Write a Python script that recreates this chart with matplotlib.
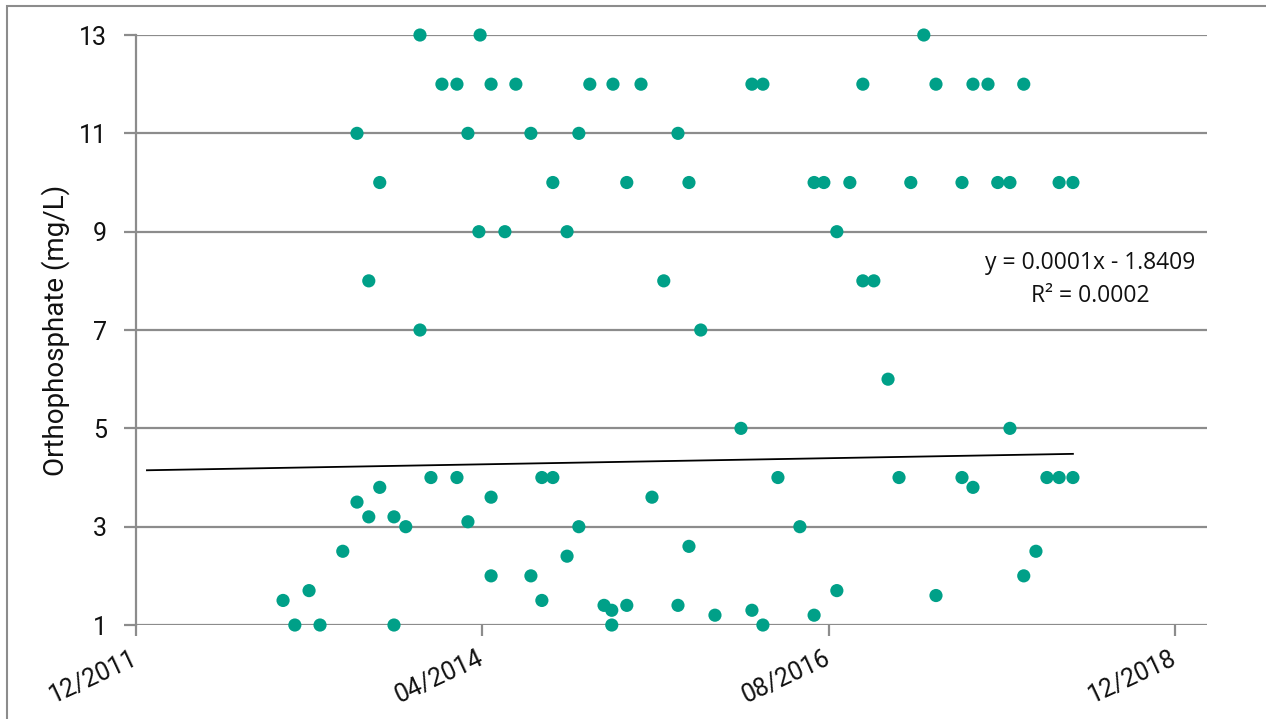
import numpy as np
import pandas as pd
import matplotlib
matplotlib.use('Agg')
import matplotlib.pyplot as plt
from matplotlib.patches import Rectangle

# sample dates as spreadsheet serial numbers (days since 1899-12-30)
sample_serial = [41240, 41269, 41304, 41331, 41387, 41422, 41422, 41451, 41451, 41478,
                 41478, 41513, 41513, 41542, 41577, 41577, 41604, 41631, 41668, 41668,
                 41695, 41695, 41722, 41725, 41752, 41752, 41752, 41786, 41813, 41850,
                 41850, 41877, 41877, 41904, 41904, 41939, 41939, 41968, 41968, 41995,
                 42030, 42049, 42049, 42052, 42086, 42086, 42121, 42148, 42177, 42212,
                 42212, 42239, 42239, 42268, 42303, 42367, 42394, 42394, 42421, 42421,
                 42458, 42512, 42547, 42547, 42571, 42603, 42603, 42635, 42667, 42667,
                 42694, 42729, 42756, 42785, 42817, 42847, 42847, 42911, 42911, 42938,
                 42938, 42975, 42999, 43029, 43029, 43063, 43063, 43093, 43120, 43150,
                 43150, 43184, 43184]
ortho = [1.5, 1.0, 1.7, 1.0, 2.5, 11, 3.5, 8, 3.2, 10,
         3.8, 3.2, 1.0, 3.0, 13, 7, 4, 12, 12, 4,
         11, 3.1, 9, 13, 12, 3.6, 2.0, 9, 12, 11,
         2.0, 4, 1.5, 10, 4, 9, 2.4, 11, 3.0, 12,
         1.4, 1.3, 1.0, 12, 10, 1.4, 12, 3.6, 8, 11,
         1.4, 10, 2.6, 7, 1.2, 5, 12, 1.3, 12, 1.0,
         4, 3.0, 10, 1.2, 10, 9, 1.7, 10, 12, 8,
         8, 6, 4, 10, 13, 12, 1.6, 10, 4, 12,
         3.8, 12, 10, 10, 5, 12, 2.0, 2.5, 4, 10,
         4, 10, 4]

# linear trendline (x = serial date)
trend_slope = 0.0001464
trend_intercept = -1.8409
trend_range = [40905, 43184]
trend_label = 'y = 0.0001x - 1.8409\nR² = 0.0002'

tick_dates = ['2011-12-01', '2014-04-01', '2016-08-01', '2018-12-01']
tick_labels = ['12/2011', '04/2014', '08/2016', '12/2018']
y_ticks = [1, 3, 5, 7, 9, 11, 13]

origin = pd.Timestamp('1899-12-30')
tick_serial = [(pd.Timestamp(d) - origin).days for d in tick_dates]

grey = '#8c8c8c'
teal = '#00a088'
ink = '#111111'
tick_font = dict(family=['Roboto', 'DejaVu Sans'], weight='normal', size=18)

fig = plt.figure(figsize=(12.66, 7.19), dpi=100)
ax = fig.add_axes([0.1074, 0.1307, 0.846, 0.8206])

for yv in y_ticks:
    ax.axhline(yv, color=grey, lw=1.6, zorder=1)

ax.scatter(sample_serial, ortho, s=90, color=teal, edgecolors='none', zorder=3, clip_on=False)

tx = np.array(trend_range, dtype=float)
ax.plot(tx, trend_slope * tx + trend_intercept, color='black', lw=1.3, zorder=2)

ax.text(0.891, 0.585, trend_label, transform=ax.transAxes, ha='center', va='center',
        multialignment='center', fontsize=16.5, linespacing=1.5, color=ink,
        family=['Open Sans', 'DejaVu Sans'])

ax.set_xlim(tick_serial[0], 43514)
ax.set_ylim(1, 13)
ax.set_yticks(y_ticks)
ax.set_yticklabels([str(v) for v in y_ticks], fontdict=tick_font)
ax.set_xticks(tick_serial)
ax.set_xticklabels(tick_labels, fontdict=tick_font, rotation=25, ha='right',
                   va='center', rotation_mode='anchor')

for side in ['top', 'right', 'bottom']:
    ax.spines[side].set_visible(False)
ax.spines['left'].set_color(grey)
ax.spines['left'].set_linewidth(1.6)
ax.tick_params(axis='y', length=9, width=1.6, color=grey, pad=12, labelcolor=ink)
ax.tick_params(axis='x', length=8, width=1.6, color=grey, pad=15, labelcolor=ink)

ax.set_ylabel('Orthophosphate (mg/L)', fontsize=20, family=['Roboto', 'DejaVu Sans'],
              color=ink)
ax.yaxis.set_label_coords(-0.062, 0.5)

# outer frame of the chart area
fig.add_artist(Rectangle((7 / 1266, -0.1), 1.2, 1.1 - 6 / 719, transform=fig.transFigure,
                         fill=False, edgecolor=grey, lw=1.5))

fig.savefig('out.png', dpi=100)
